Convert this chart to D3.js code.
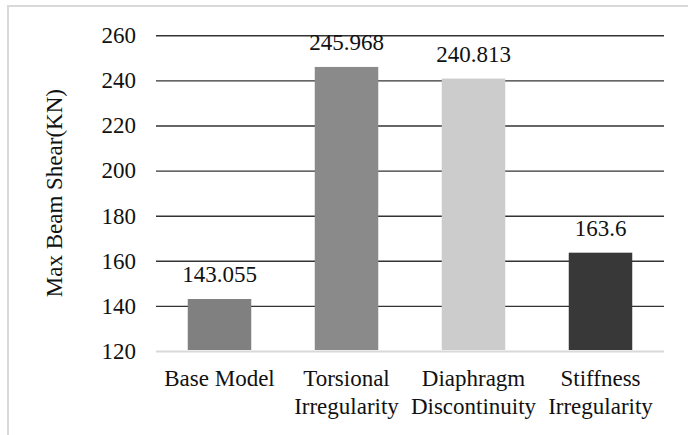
<!DOCTYPE html>
<html>
<head>
<meta charset="utf-8">
<script src="https://cdn.jsdelivr.net/npm/d3@7"></script>
<style>
  html, body { margin: 0; padding: 0; background: #fff; }
  svg { display: block; }
</style>
</head>
<body>
<svg id="chart" width="688" height="435"></svg>
<script>
// Maximum beam shear per model variant
const categories = [["Base Model"], ["Torsional", "Irregularity"], ["Diaphragm", "Discontinuity"], ["Stiffness", "Irregularity"]];
const values = [143.055, 245.968, 240.813, 163.6];
const valueLabels = ["143.055", "245.968", "240.813", "163.6"];
const barColors = ["#808080", "#8a8a8a", "#cccccc", "#383838"];
const yTicks = [120, 140, 160, 180, 200, 220, 240, 260];
const yTitle = "Max Beam Shear(KN)";

const svg = d3.select("#chart");
const fontFamily = '"Liberation Serif", "Times New Roman", serif';
const fontSize = 23;

// chart frame
svg.append("rect")
  .attr("x", 8).attr("y", 6)
  .attr("width", 700).attr("height", 450)
  .attr("fill", "none")
  .attr("stroke", "#d9d9d9")
  .attr("stroke-width", 2);

const plot = { left: 156, right: 664, top: 35.3, bottom: 351 };

const x = d3.scaleBand()
  .domain(d3.range(categories.length))
  .range([plot.left, plot.right])
  .paddingInner(0.5)
  .paddingOuter(0.25);

const y = d3.scaleLinear()
  .domain([120, 260])
  .range([plot.bottom, plot.top]);

// gridlines + tick labels
const yAxis = d3.axisLeft(y)
  .tickValues(yTicks)
  .tickSize(-(plot.right - plot.left))
  .tickPadding(20)
  .tickFormat(d3.format("d"));

const gy = svg.append("g")
  .attr("transform", `translate(${plot.left},0)`)
  .call(yAxis);
gy.select(".domain").remove();
gy.selectAll(".tick line")
  .attr("stroke", (d) => d === 120 ? "#d9d9d9" : "#333333")
  .attr("stroke-width", (d) => d === 120 ? 2.2 : 1.4);
gy.selectAll(".tick text")
  .style("font-family", fontFamily)
  .style("font-size", fontSize + "px")
  .attr("fill", "#111");

// bars
svg.append("g").selectAll("rect")
  .data(values)
  .join("rect")
  .attr("x", (d, i) => x(i))
  .attr("width", x.bandwidth())
  .attr("y", (d) => y(d))
  .attr("height", (d) => y(120) - y(d) - 1)
  .attr("fill", (d, i) => barColors[i]);

// value labels
svg.append("g").selectAll("text")
  .data(values)
  .join("text")
  .attr("x", (d, i) => x(i) + x.bandwidth() / 2)
  .attr("y", (d) => y(d) - 17)
  .attr("text-anchor", "middle")
  .style("font-family", fontFamily)
  .style("font-size", fontSize + "px")
  .attr("fill", "#111")
  .text((d, i) => valueLabels[i]);

// category labels
const cat = svg.append("g").selectAll("text")
  .data(categories)
  .join("text")
  .attr("x", (d, i) => x(i) + x.bandwidth() / 2)
  .attr("y", 386)
  .attr("text-anchor", "middle")
  .style("font-family", fontFamily)
  .style("font-size", fontSize + "px")
  .attr("fill", "#111");
cat.selectAll("tspan")
  .data((d) => d)
  .join("tspan")
  .attr("x", function () { return d3.select(this.parentNode).attr("x"); })
  .attr("dy", (d, i) => i === 0 ? 0 : 28)
  .text((d) => d);

// y-axis title
svg.append("text")
  .attr("transform", `translate(62,${(plot.top + plot.bottom) / 2}) rotate(-90)`)
  .attr("text-anchor", "middle")
  .style("font-family", fontFamily)
  .style("font-size", fontSize + "px")
  .attr("fill", "#111")
  .text(yTitle);
</script>
</body>
</html>
